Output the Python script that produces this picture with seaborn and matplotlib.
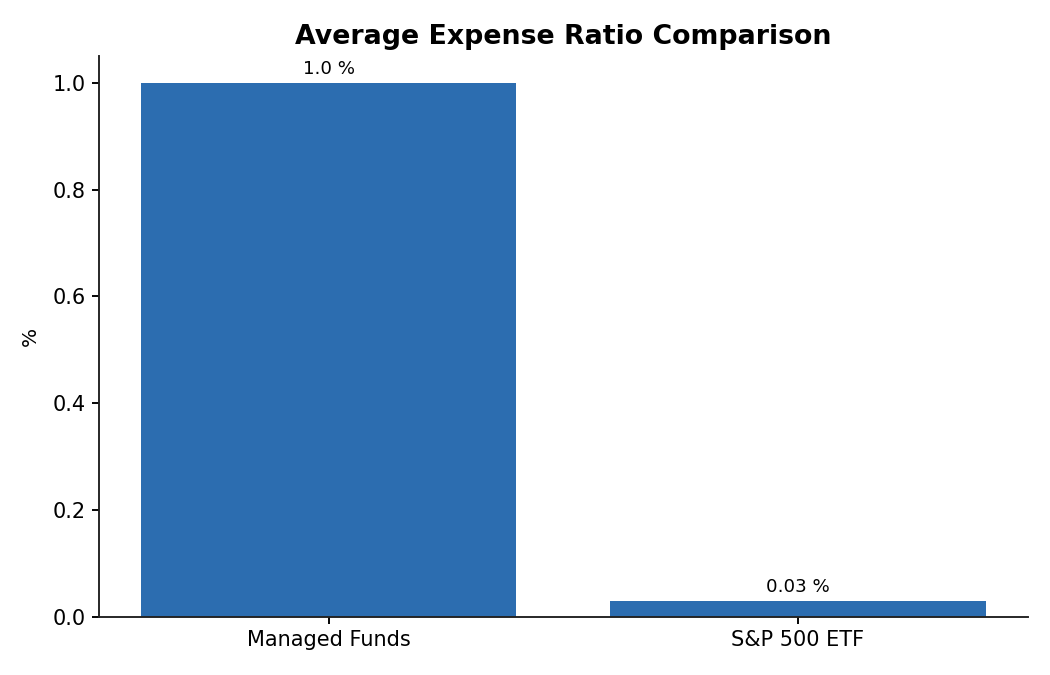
import matplotlib
matplotlib.use("Agg")
import matplotlib.pyplot as plt
import seaborn as sns
import pandas as pd

categories = ["Managed Funds", "S&P 500 ETF"]
expense_ratio = [1.0, 0.03]
value_labels = ["1.0 %", "0.03 %"]

data = pd.DataFrame({"fund": categories, "ratio": expense_ratio})

fig, ax = plt.subplots(figsize=(8.4, 5.4), dpi=125)
fig.subplots_adjust(left=0.094, right=0.979, top=0.917, bottom=0.086)

sns.barplot(x="fund", y="ratio", data=data, color="#2c6db0", saturation=1,
            width=0.8, linewidth=0, ax=ax)
ax.set_xlim(-0.49, 1.49)

for i, (v, lab) in enumerate(zip(expense_ratio, value_labels)):
    ax.annotate(lab, (i, v), xytext=(0, 3), textcoords="offset points",
                ha="center", va="bottom", fontsize=10.5)

ax.set_title("Average Expense Ratio Comparison", fontsize=15.4,
             fontweight="bold", pad=7)
ax.set_ylabel("%", fontsize=11.5, labelpad=7)
ax.set_xlabel("")
ax.tick_params(labelsize=12, width=1.1, length=4)
for s in ax.spines.values():
    s.set_linewidth(1.1)
    s.set_color("#222222")
sns.despine(ax=ax)

plt.savefig("out.png", dpi=125)
